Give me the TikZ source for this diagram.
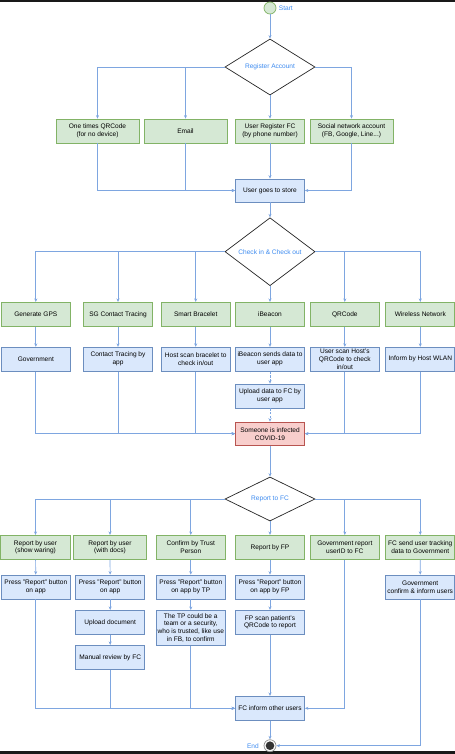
\documentclass[tikz,border=0pt]{standalone}
\usepackage{fontspec}
\setmainfont{Liberation Sans}
\usetikzlibrary{shapes.geometric,arrows.meta,positioning}

\definecolor{gfill}{HTML}{D5E8D4}
\definecolor{gline}{HTML}{82B366}
\definecolor{bfill}{HTML}{DAE8FC}
\definecolor{bline}{HTML}{6C8EBF}
\definecolor{rfill}{HTML}{F8CECC}
\definecolor{rline}{HTML}{B85450}
\definecolor{link}{HTML}{7EA6E0}
\definecolor{lblue}{HTML}{3D8BF0}

\begin{document}
\begin{tikzpicture}[
    x=0.03cm, y=-0.03cm,
    every node/.style={font=\fontsize{5.6}{6.8}\selectfont, align=center, inner sep=1pt},
    act/.style={draw=gline, fill=gfill, line width=0.6pt, minimum width=2.07cm, minimum height=0.72cm},
    proc/.style={draw=bline, fill=bfill, line width=0.6pt, minimum width=2.07cm, minimum height=0.72cm},
    alert/.style={draw=rline, fill=rfill, line width=0.6pt, minimum width=2.07cm, minimum height=0.7cm},
    decision/.style={diamond, draw=black!85, fill=white, line width=0.6pt, minimum width=2.7cm, minimum height=1.32cm, inner sep=0pt, text=lblue},
    flow/.style={draw=link, line width=0.6pt, -{Stealth[length=3pt,width=2.6pt]}},
    flowdash/.style={flow, dash pattern=on 2pt off 1.2pt}
]
    \useasboundingbox (0,0) rectangle (455,754);
    \fill[black!90] (0,0) rectangle (455,2);
    \fill[black!90] (0,751) rectangle (455,754);

    % Registration
    \node[circle, draw=gline, fill=gfill, line width=0.6pt, minimum size=0.36cm, inner sep=0pt] (start) at (270,8) {};
    \node[right=1pt of start, text=lblue] (startlbl) {Start};
    \node[decision] (reg) at (270,67) {Register Account};
    \node[act, minimum width=2.49cm] (qr) at (97.5,131) {One times QRCode\\(for no device)};
    \node[act, minimum width=2.49cm] (email) at (185.5,131) {Email};
    \node[act] (ufc) at (270,131) {User Register FC\\(by phone number)};
    \node[act, minimum width=2.49cm] (social) at (351.5,131) {Social network account\\(FB, Google, Line...)};
    \node[proc, minimum height=0.69cm] (store) at (270,190.5) {User goes to store};

    \draw[flow] (start) -- (reg);
    \foreach \b in {qr,email} \draw[flow] (reg.west) -| (\b.north);
    \draw[flow] (reg) -- (ufc);
    \draw[flow] (reg.east) -| (social.north);
    \foreach \b in {qr,email} \draw[flow] (\b.south) |- (store.west);
    \draw[flow] (ufc) -- (store);
    \draw[flow] (social.south) |- (store.east);

    % Check in & Check out
    \node[decision] (checkin) at (270,251.7) {Check in \& Check out};
    \node[act] (gps) at (35.8,314.3) {Generate GPS};
    \node[act] (sg) at (118,314.3) {SG Contact Tracing};
    \node[act] (brace) at (195.7,314.3) {Smart Bracelet};
    \node[act] (ibeacon) at (270,314.3) {iBeacon};
    \node[act] (qrc) at (344.8,314.3) {QRCode};
    \node[act] (wlan) at (420.3,314.3) {Wireless Network};

    \node[proc] (gov) at (35.8,359.2) {Government};
    \node[proc] (ctapp) at (118,359.2) {Contact Tracing by\\app};
    \node[proc] (hostscan) at (195.7,359.2) {Host scan bracelet to\\check in/out};
    \node[proc] (ibsend) at (270,359.2) {iBeacon sends data to\\user app};
    \node[proc] (userscan) at (344.8,359.2) {User scan Host's\\QRCode to check\\in/out};
    \node[proc] (wlaninf) at (420.3,359.2) {Inform by Host WLAN};
    \node[proc] (upload) at (270,396) {Upload data to FC by\\user app};
    \node[alert] (infected) at (270,433.7) {Someone is infected\\COVID-19};

    \draw[flow] (store) -- (checkin);
    \foreach \b in {gps,sg,brace} \draw[flow] (checkin.west) -| (\b.north);
    \draw[flow] (checkin) -- (ibeacon);
    \foreach \b in {qrc,wlan} \draw[flow] (checkin.east) -| (\b.north);
    \foreach \a/\b in {gps/gov, sg/ctapp, brace/hostscan, ibeacon/ibsend, qrc/userscan, wlan/wlaninf}
        \draw[flow] (\a) -- (\b);
    \draw[flowdash] (ibsend) -- (upload);
    \draw[flowdash] (upload) -- (infected);
    \foreach \a in {gov,ctapp,hostscan} \draw[flow] (\a.south) |- (infected.west);
    \foreach \a in {userscan,wlaninf} \draw[flow] (\a.south) |- (infected.east);

    % Report to FC
    \node[decision] (reportfc) at (270,499) {Report to FC};
    \node[act, minimum width=2.1cm] (r1) at (35.5,547.3) {Report by user\\(show waring)};
    \node[act, minimum width=2.19cm] (r2) at (110,547.3) {Report by user\\(with docs)};
    \node[act] (r3) at (190.8,547.3) {Confirm by Trust\\Person};
    \node[act] (r4) at (270,547.3) {Report by FP};
    \node[act] (r5) at (344.8,547.3) {Government report\\userID to FC};
    \node[act] (r6) at (420.3,547.3) {FC send user tracking\\data to Government};

    \node[proc] (p1) at (35.8,587) {Press "Report" button\\on app};
    \node[proc] (p2) at (110.2,587) {Press "Report" button\\on app};
    \node[proc] (p3) at (190.8,587) {Press "Report" button\\on app by TP};
    \node[proc] (p4) at (270,587) {Press "Report" button\\on app by FP};
    \node[proc] (gc) at (420.2,587) {Government\\confirm \& inform users};
    \node[proc] (upl) at (110.2,622.3) {Upload document};
    \node[proc, minimum height=1.06cm] (tp) at (190.8,628) {The TP could be a\\team or a security,\\who is trusted, like use\\in FB, to confirm};
    \node[proc] (fpscan) at (270,622.3) {FP scan patient's\\QRCode to report};
    \node[proc] (manual) at (110.2,657.3) {Manual review by FC};
    \node[proc] (inform) at (270,708.3) {FC inform other users};

    \node[circle, draw=black!45, fill=white, line width=0.6pt, minimum size=0.36cm, inner sep=0pt,
        path picture={\fill[black!80] (path picture bounding box.center) circle (0.13cm);}] (end) at (270,745.7) {};
    \node[left=3pt of end, text=lblue] (endlbl) {End};

    \draw[flow] (infected) -- (reportfc);
    \foreach \b in {r1,r2,r3} \draw[flow] (reportfc.west) -| (\b.north);
    \draw[flow] (reportfc) -- (r4);
    \foreach \b in {r5,r6} \draw[flow] (reportfc.east) -| (\b.north);
    \foreach \a/\b in {r1/p1, r2/p2, p2/upl, upl/manual, r3/p3, p3/tp, r4/p4, p4/fpscan, fpscan/inform, r6/gc}
        \draw[flow] (\a) -- (\b);
    \foreach \a in {p1,manual,tp} \draw[flow] (\a.south) |- (inform.west);
    \draw[flow] (r5.south) |- (inform.east);
    \draw[flow] (inform) -- (end);
    \draw[flow] (gc.south) |- (end.east);

\end{tikzpicture}
\end{document}
